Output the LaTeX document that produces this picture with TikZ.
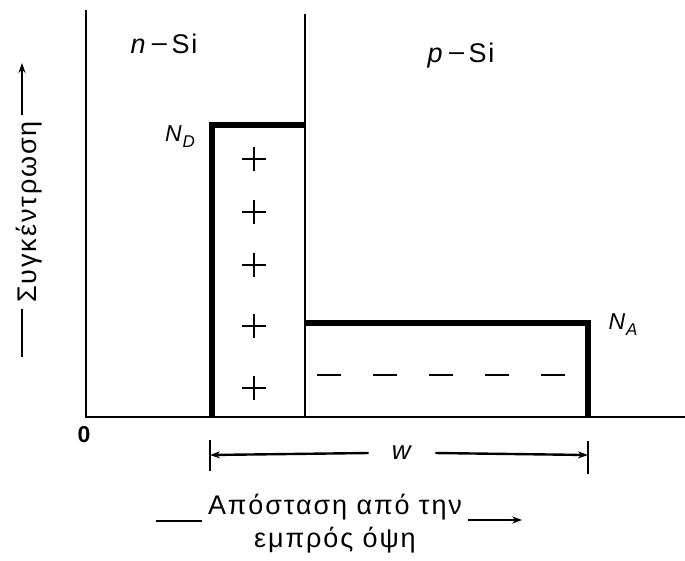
\documentclass[tikz,border=0pt]{standalone}
\usepackage{fontspec}
\setmainfont{Liberation Sans}
\usetikzlibrary{arrows.meta}

\newcommand{\conc}[2]{\textit{#1}\kern1pt\raisebox{-6pt}{\fontsize{17}{20}\selectfont\textit{#2}}}

\begin{document}
\begin{tikzpicture}[
    x=1pt, y=-1pt,
    thinline/.style={line width=2.4pt},
    boldline/.style={line width=5.5pt, line join=miter},
    plusmark/.style={line width=2.6pt},
    tip/.style={-{Stealth[length=10pt,width=7pt]}},
    txt/.style={font=\fontsize{27}{33}\selectfont\addfontfeature{LetterSpace=7}, inner sep=0pt},
    sym/.style={font=\fontsize{23}{26}\selectfont, inner sep=0pt},
]
    \useasboundingbox (0,0) rectangle (685,560);

    % axes and junction
    \draw [thinline]
        (86,10) -- (86,417) -- (685,417)
        ;
    \draw [thinline]
        (305,14) -- (305,417)
        ;

    % donor and acceptor levels
    \draw [boldline]
        (212,418) -- (212,125) -- (305,125)
        ;
    \draw [boldline]
        (305,323) -- (588,323) -- (588,418)
        ;

    \foreach \y in {159,212,265,326,388}
        \draw [plusmark]
            (242,\y) -- (266,\y)
            (254,\y-12) -- (254,\y+12)
            ;

    \draw [thinline, dash pattern=on 24pt off 32pt]
        (317,375) -- (570,375)
        ;

    \node [txt] (nsi) at (164,44) {\textit{n}\,\raisebox{2pt}{–}\,Si};
    \node [txt] (psi) at (461,56) {\textit{p}\,\raisebox{2pt}{–}\,Si};
    \node [sym] (ND) at (180,137) {\conc{N}{D}};
    \node [sym] (NA) at (623,325) {\conc{N}{A}};
    \node [sym, font=\fontsize{23}{26}\selectfont\bfseries] (zero) at (84,435) {0};

    % width of the depletion region
    \coordinate (wl) at (210,455);
    \coordinate (wr) at (588,455);
    \draw [thinline]
        (210,440) -- (210,471)
        (588,441) -- (588,474)
        ;
    \node [sym, font=\fontsize{26}{28}\selectfont, inner xsep=23pt] (w) at (402,453) {\textit{w}};
    \draw [thinline, tip] (w.west) -- (wl);
    \draw [thinline, tip] (w.east) -- (wr);

    % axis titles
    \node [txt, rotate=90] (ylbl) at (29,212) {Συγκέντρωση};
    \draw [thinline]
        ([shift={(-7,6)}]ylbl.west) -- ++(0,48)
        ;
    \draw [thinline, tip]
        ([shift={(-7,-6)}]ylbl.east) -- ++(0,-52)
        ;

    \node [txt, align=center, inner xsep=6pt] (xlbl) at (335,524) {Απόσταση από την\\εμπρός όψη};
    \draw [thinline]
        ([yshift=3pt]xlbl.west) -- ++(-46,0)
        ;
    \draw [thinline, tip]
        ([yshift=4pt]xlbl.east) -- ++(54,0)
        ;
\end{tikzpicture}
\end{document}
